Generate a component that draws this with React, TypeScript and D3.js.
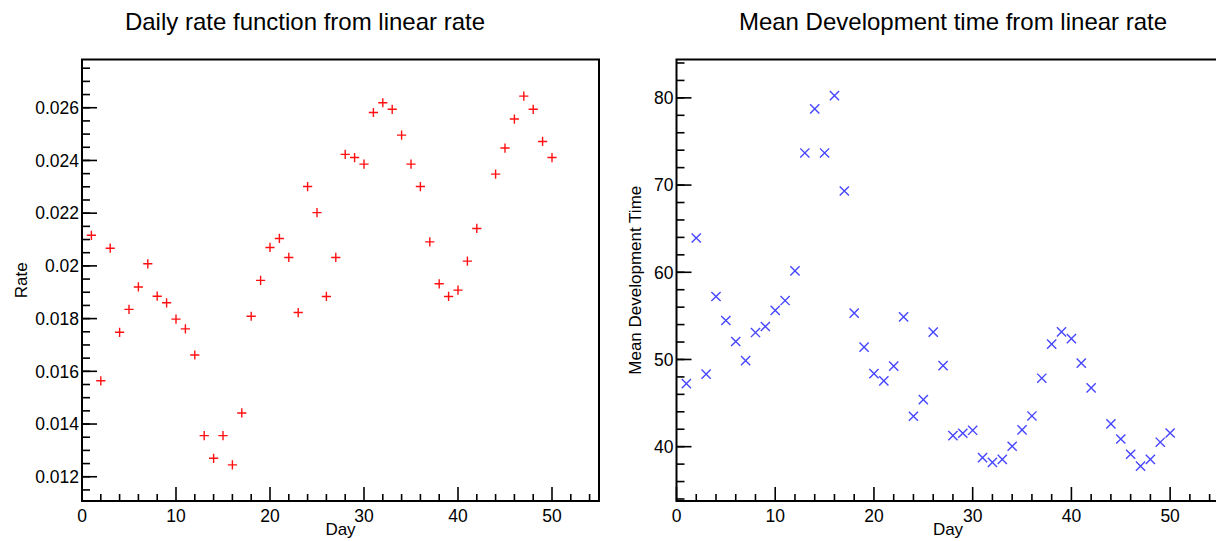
import React from 'react';
import * as d3 from 'd3';

// day numbers (day 43 has no point in either plot)
const days = [
  1, 2, 3, 4, 5, 6, 7, 8, 9, 10, 11, 12, 13, 14, 15, 16, 17, 18, 19, 20,
  21, 22, 23, 24, 25, 26, 27, 28, 29, 30, 31, 32, 33, 34, 35, 36, 37, 38, 39, 40,
  41, 42, 44, 45, 46, 47, 48, 49, 50,
];

const rates = [
  0.02116, 0.01564, 0.02067, 0.01748, 0.01835, 0.0192, 0.02008, 0.01885, 0.0186, 0.01798,
  0.01761, 0.01662, 0.01356, 0.0127, 0.01356, 0.01245, 0.01442, 0.01809, 0.01945, 0.0207,
  0.02104, 0.02032, 0.01823, 0.02301, 0.02202, 0.01884, 0.02032, 0.02423, 0.02411, 0.02386,
  0.02582, 0.02619, 0.02594, 0.02496, 0.02386, 0.02301, 0.02091, 0.01932, 0.01884, 0.01908,
  0.02018, 0.02142, 0.02348, 0.02447, 0.02557, 0.02644, 0.02594, 0.02472, 0.02411,
];

const devTimes = [
  47.23, 63.93, 48.31, 57.22, 54.47, 52.06, 49.87, 53.09, 53.78, 55.62,
  56.76, 60.17, 73.68, 78.74, 73.68, 80.26, 69.32, 55.32, 51.41, 48.38,
  47.54, 49.23, 54.89, 43.49, 45.4, 53.13, 49.3, 41.26, 41.54, 41.88,
  38.74, 38.21, 38.55, 40.05, 41.92, 43.52, 47.85, 51.76, 53.17, 52.4,
  49.58, 46.74, 42.61, 40.88, 39.13, 37.78, 38.55, 40.51, 41.57,
];

const dayTicks = [0, 10, 20, 30, 40, 50];
const rateTicks = [0.012, 0.014, 0.016, 0.018, 0.02, 0.022, 0.024, 0.026];
const rateTickLabels = ['0.012', '0.014', '0.016', '0.018', '0.02', '0.022', '0.024', '0.026'];
const timeTicks = [40, 50, 60, 70, 80];

const FONT = '"Liberation Sans", Arial, Helvetica, sans-serif';

type PanelProps = {
  title: string;
  titleX: number;
  yTitle: string;
  yTitleX: number;
  left: number;
  right: number;
  top: number;
  bottom: number;
  xDomain: [number, number];
  yDomain: [number, number];
  yTicks: number[];
  yLabels: string[];
  yMinorStep: number;
  ys: number[];
  marker: 'plus' | 'cross';
  color: string;
};

function Panel(p: PanelProps) {
  const x = d3.scaleLinear().domain(p.xDomain).range([p.left, p.right]);
  const y = d3.scaleLinear().domain(p.yDomain).range([p.bottom, p.top]);

  const xMinor = d3.range(0, p.xDomain[1] + 0.001, 2).filter((v) => v % 10 !== 0);
  const yStart = Math.ceil(p.yDomain[0] / p.yMinorStep - 1e-6);
  const yEnd = Math.floor(p.yDomain[1] / p.yMinorStep + 1e-6);
  const yMinor = d3.range(yStart, yEnd + 1).map((k) => k * p.yMinorStep);

  const s = 4.6;
  const markerPath = (cx: number, cy: number) =>
    p.marker === 'plus'
      ? `M${cx - s},${cy}H${cx + s}M${cx},${cy - s}V${cy + s}`
      : `M${cx - s},${cy - s}L${cx + s},${cy + s}M${cx - s},${cy + s}L${cx + s},${cy - s}`;

  return (
    <g>
      <text x={p.titleX} y={30} textAnchor="middle" fontSize={24} fontFamily={FONT} fill="#000">
        {p.title}
      </text>

      {/* frame */}
      <rect
        x={p.left}
        y={p.top}
        width={p.right - p.left}
        height={p.bottom - p.top}
        fill="none"
        stroke="#000"
        strokeWidth={2}
      />

      {/* y ticks */}
      {yMinor.map((v, i) => (
        <line key={'ym' + i} x1={p.left} x2={p.left + 8} y1={y(v)} y2={y(v)} stroke="#000" strokeWidth={1.6} />
      ))}
      {p.yTicks.map((v, i) => (
        <g key={'yt' + i}>
          <line x1={p.left} x2={p.left + 15} y1={y(v)} y2={y(v)} stroke="#000" strokeWidth={1.6} />
          <text
            x={p.left - 3}
            y={y(v)}
            dy="0.36em"
            textAnchor="end"
            fontSize={17.5}
            fontFamily={FONT}
            fill="#000"
          >
            {p.yLabels[i]}
          </text>
        </g>
      ))}

      {/* x ticks */}
      {xMinor.map((v, i) => (
        <line key={'xm' + i} x1={x(v)} x2={x(v)} y1={p.bottom} y2={p.bottom - 7} stroke="#000" strokeWidth={1.6} />
      ))}
      {dayTicks.map((v) => (
        <g key={'xt' + v}>
          <line x1={x(v)} x2={x(v)} y1={p.bottom} y2={p.bottom - 14} stroke="#000" strokeWidth={1.6} />
          <text x={x(v)} y={p.bottom + 21} textAnchor="middle" fontSize={17.5} fontFamily={FONT} fill="#000">
            {v}
          </text>
        </g>
      ))}

      <text
        x={(p.left + p.right) / 2}
        y={p.bottom + 34}
        textAnchor="middle"
        fontSize={17}
        fontFamily={FONT}
        fill="#000"
      >
        Day
      </text>
      <text
        transform={`translate(${p.yTitleX},${(p.top + p.bottom) / 2}) rotate(-90)`}
        textAnchor="middle"
        fontSize={17}
        fontFamily={FONT}
        fill="#000"
      >
        {p.yTitle}
      </text>

      {/* markers */}
      {days.map((d, i) => (
        <path key={'pt' + d} d={markerPath(x(d), y(p.ys[i]))} stroke={p.color} strokeWidth={1.4} fill="none" />
      ))}
    </g>
  );
}

export default function App() {
  return (
    <svg
      width={1216}
      height={541}
      style={{ position: 'absolute', left: 0, top: 0, background: '#fff', overflow: 'hidden' }}
    >
      <rect x={0} y={0} width={1216} height={541} fill="#fff" />
      <Panel
        title="Daily rate function from linear rate"
        titleX={305}
        yTitle="Rate"
        yTitleX={27}
        left={82}
        right={599}
        top={59.5}
        bottom={501}
        xDomain={[0, 55]}
        yDomain={[0.01108, 0.02783]}
        yTicks={rateTicks}
        yLabels={rateTickLabels}
        yMinorStep={0.0005}
        ys={rates}
        marker="plus"
        color="#ff1010"
      />
      <Panel
        title="Mean Development time from linear rate"
        titleX={953}
        yTitle="Mean Development Time"
        yTitleX={641}
        left={676.5}
        right={1219.5}
        top={59.5}
        bottom={501}
        xDomain={[0, 55]}
        yDomain={[33.77, 84.4]}
        yTicks={timeTicks}
        yLabels={timeTicks.map(String)}
        yMinorStep={2}
        ys={devTimes}
        marker="cross"
        color="#4646ff"
      />
    </svg>
  );
}
